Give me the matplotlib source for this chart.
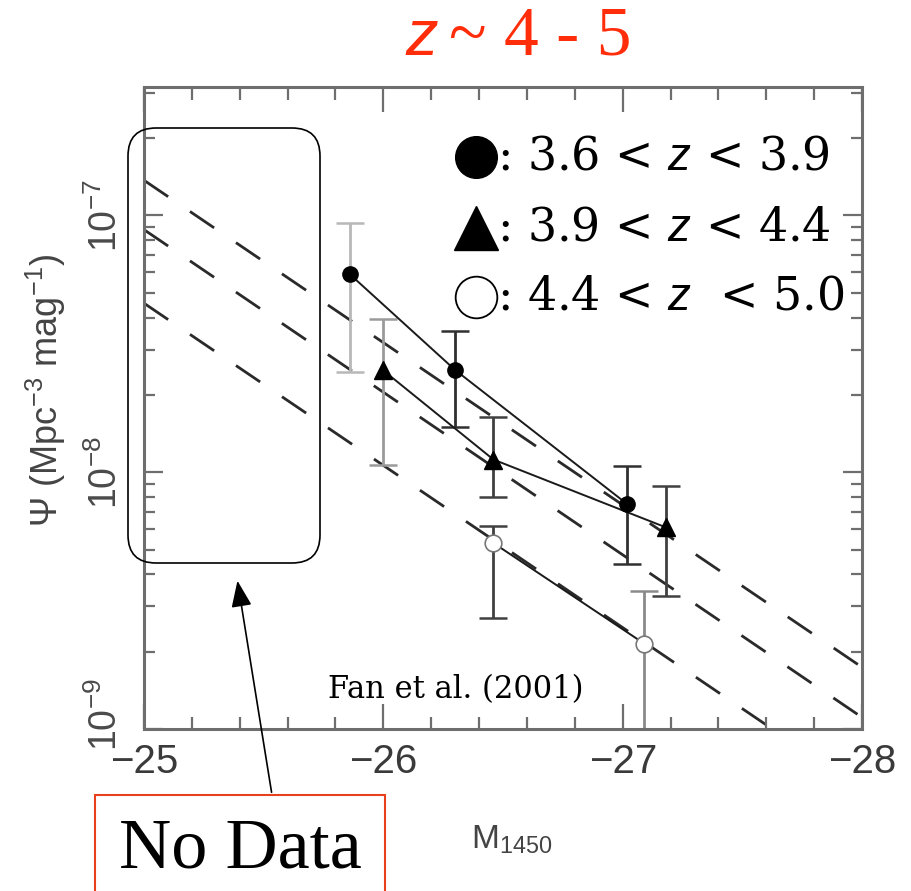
import matplotlib
matplotlib.use("Agg")
import matplotlib.pyplot as plt
import matplotlib.transforms as mtransforms
from matplotlib import font_manager
from matplotlib.font_manager import FontProperties
from matplotlib.patches import FancyBboxPatch, Rectangle, FancyArrowPatch
from matplotlib.lines import Line2D
from matplotlib.ticker import FixedLocator, LogLocator, NullFormatter, MultipleLocator

plt.rcParams["font.family"] = ["Liberation Sans", "DejaVu Sans"]
plt.rcParams["mathtext.fontset"] = "custom"
plt.rcParams["mathtext.rm"] = "Liberation Sans"
plt.rcParams["mathtext.sf"] = "Liberation Sans"
plt.rcParams["mathtext.it"] = "Liberation Sans:italic"
plt.rcParams["lines.scale_dashes"] = False

# ---------------- data ----------------
# filled circles: 3.6 < z < 3.9
M_circ = [-25.86, -26.30, -27.02]
psi_circ = [5.9e-8, 2.5e-8, 7.5e-9]
psi_circ_lo = [2.45e-8, 1.5e-8, 4.4e-9]
psi_circ_hi = [9.3e-8, 3.55e-8, 1.06e-8]

# filled triangles: 3.9 < z < 4.4
M_tri = [-26.00, -26.46, -27.18]
psi_tri = [2.49e-8, 1.12e-8, 6.1e-9]
psi_tri_lo = [1.07e-8, 8.0e-9, 3.3e-9]
psi_tri_hi = [3.95e-8, 1.64e-8, 8.85e-9]

# open circles: 4.4 < z < 5.0
M_open = [-26.46, -27.09]
psi_open = [5.3e-9, 2.15e-9]
psi_open_lo = [2.7e-9, 4.0e-10]
psi_open_hi = [6.2e-9, 3.45e-9]

# dashed power-law model lines (values at the two ends of the M range)
model_M = [-25.0, -28.0]
model_psi_1 = [1.37e-7, 1.74e-9]
model_psi_2 = [8.8e-8, 1.11e-9]
model_psi_3 = [4.55e-8, 5.8e-10]

x_ticks = [-25, -26, -27, -28]
y_ticks = [1e-9, 1e-8, 1e-7]
y_ticklabels = [r"$10^{-9}$", r"$10^{-8}$", r"$10^{-7}$"]

legend_labels = [": 3.6 < $z$ < 3.9", ": 3.9 < $z$ < 4.4", ": 4.4 < $z$  < 5.0"]
title_var = "z"
title_rest = "~ 4 - 5"
# --------------------------------------

serif_path = font_manager.findfont(FontProperties(family="Liberation Serif"))
fp_title = FontProperties(fname=serif_path, size=50)
fp_nodata = FontProperties(fname=serif_path, size=52)

W, H = 911, 891
fig = plt.figure(figsize=(W / 100, H / 100), dpi=100)
fig.patch.set_facecolor("white")


def fx(px):
    return px / W


def fy(py):
    return 1 - py / H


ax = fig.add_axes([fx(144), fy(729), (862 - 144) / W, (729 - 87) / H])
ax.set_yscale("log")
ax.set_xlim(-25, -28)
ax.set_ylim(1e-9, 10 ** -6.5)

# dashed model lines
for mp in (model_psi_1, model_psi_2, model_psi_3):
    ax.plot(model_M, mp, color="#2a2a2a", lw=2.0, dashes=(21, 19), zorder=1)


def draw_series(M, psi, lo, hi, marker, ms, mfc, mec, mew, bar_colors):
    ax.plot(M, psi, "-", color="#1a1a1a", lw=1.4, zorder=3)
    for m, p, l, h, c in zip(M, psi, lo, hi, bar_colors):
        ax.errorbar([m], [p], yerr=[[p - l], [h - p]], fmt="none", ecolor=c,
                    elinewidth=2.0, capsize=10, capthick=1.8, zorder=2)
    ax.plot(M, psi, ls="none", marker=marker, ms=ms, mfc=mfc, mec=mec,
            mew=mew, zorder=4)


draw_series(M_circ, psi_circ, psi_circ_lo, psi_circ_hi, "o", 11, "black", "black", 1,
            ["#b8b8b8", "#303030", "#303030"])
draw_series(M_tri, psi_tri, psi_tri_lo, psi_tri_hi, "^", 13, "black", "black", 1,
            ["#9a9a9a", "#404040", "#404040"])
draw_series(M_open, psi_open, psi_open_lo, psi_open_hi, "o", 12, "white", "#777777", 1.2,
            ["#404040", "#8a8a8a"])

# axes styling
for sp in ax.spines.values():
    sp.set_color("#6e6e6e")
    sp.set_linewidth(2.2)

ax.xaxis.set_major_locator(FixedLocator(x_ticks))
ax.xaxis.set_minor_locator(MultipleLocator(0.2))
ax.yaxis.set_major_locator(FixedLocator(y_ticks))
ax.yaxis.set_minor_locator(LogLocator(base=10, subs=[2, 3, 4, 5, 6, 7, 8, 9]))
ax.yaxis.set_minor_formatter(NullFormatter())
ax.set_yticklabels(y_ticklabels)

ax.tick_params(which="both", direction="in", top=True, right=True,
               color="#6e6e6e", width=1.6)
ax.tick_params(axis="x", which="major", length=18, labelsize=29, labelcolor="#3a3a3a", pad=10)
ax.tick_params(axis="x", which="minor", length=9)
ax.tick_params(axis="y", which="major", length=14, labelsize=27, labelcolor="#4a4a4a",
               pad=14, labelrotation=90)
ax.tick_params(axis="y", which="minor", length=8)
ylabs = ax.get_yticklabels()
for lab in ylabs:
    lab.set_va("center")
# lift the lowest label a little, as in the reference
ylabs[0].set_transform(ylabs[0].get_transform() +
                       mtransforms.ScaledTranslation(0, 14 / 100, fig.dpi_scale_trans))

# axis labels
fig.text(fx(46), fy(390), "Ψ (Mpc$^{-3}$ mag$^{-1}$)", rotation=90, ha="center",
         va="center", fontsize=26, color="#444444")
fig.text(fx(512), fy(840), "M$_{1450}$", ha="center", va="center", fontsize=24,
         color="#444444")

# title
fig.text(fx(405), fy(38), title_var, ha="left", va="center", fontsize=47,
         style="italic", family="Liberation Sans", color="#ff2d0a")
fig.text(fx(449), fy(38), title_rest, ha="left", va="center",
         fontproperties=fp_title, color="#ff2d0a")

# legend
leg_y = [157, 228, 297]
leg_markers = [dict(marker="o", ms=30, mfc="black", mec="black", mew=1),
               dict(marker="^", ms=31, mfc="black", mec="black", mew=1),
               dict(marker="o", ms=30, mfc="white", mec="black", mew=1.3)]
for yy, lab, mk in zip(leg_y, legend_labels, leg_markers):
    fig.add_artist(Line2D([fx(476)], [fy(yy)], transform=fig.transFigure, ls="none", **mk))
    fig.text(fx(497), fy(yy), lab, ha="left", va="center", fontsize=33,
             family="DejaVu Serif", color="black")

# citation
fig.text(fx(456), fy(690), "Fan et al. (2001)", ha="center", va="center", fontsize=22,
         family="DejaVu Serif", color="black")

# "No Data" annotation
tr = fig.dpi_scale_trans
box = FancyBboxPatch((1.28, (H - 563) / 100), 1.92, (563 - 128) / 100,
                     boxstyle="round,pad=0,rounding_size=0.28", transform=tr,
                     fill=False, ec="black", lw=1.2, zorder=10)
fig.add_artist(box)
arrow = FancyArrowPatch((2.72, (H - 795) / 100), (2.37, (H - 578) / 100), transform=tr,
                        arrowstyle="-|>,head_length=0.9,head_width=0.35",
                        mutation_scale=18, color="black", lw=1.2, zorder=10)
fig.add_artist(arrow)
rect = Rectangle((0.95, -0.2), 2.9, (H - 795) / 100 + 0.2, transform=tr, fill=False,
                 ec="#e8401c", lw=1.5, zorder=10)
fig.add_artist(rect)
fig.text(fx(240), fy(850), "No Data", ha="center", va="center",
         fontproperties=fp_nodata, color="black")

fig.savefig("out.png", dpi=100, facecolor="white")
